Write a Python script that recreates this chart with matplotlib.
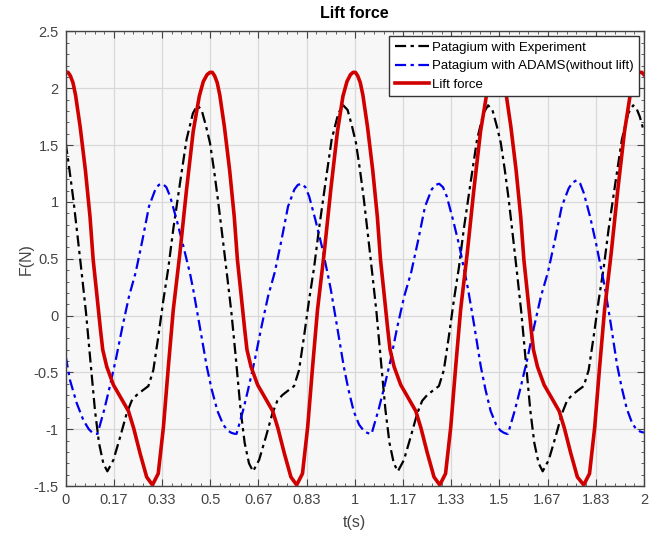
import numpy as np
import matplotlib
matplotlib.use("Agg")
import matplotlib.pyplot as plt
from matplotlib.ticker import MultipleLocator

plt.rcParams["font.family"] = ["Liberation Sans", "DejaVu Sans"]

# Patagium with Experiment (black dash-dot)
exp_t = [0.0, 0.013, 0.026, 0.04, 0.055, 0.07, 0.084, 0.101, 0.115, 0.13, 0.144, 0.165, 0.188, 0.211,
         0.228, 0.245, 0.265, 0.286, 0.303, 0.32, 0.338, 0.355, 0.372, 0.395, 0.418, 0.44,
         0.455, 0.47, 0.485, 0.499, 0.513, 0.526, 0.541, 0.557, 0.573, 0.588, 0.605, 0.619, 0.634, 0.648,
         0.669, 0.692, 0.715, 0.732, 0.749, 0.769, 0.79, 0.807, 0.824, 0.842, 0.859, 0.876, 0.898, 0.92, 0.943,
         0.96, 0.975, 0.99, 1.004, 1.018, 1.031, 1.045, 1.06, 1.075, 1.089, 1.106, 1.12, 1.135, 1.149,
         1.17, 1.193, 1.216, 1.233, 1.25, 1.27, 1.291, 1.308, 1.325, 1.343, 1.36, 1.377, 1.40, 1.423, 1.445,
         1.461, 1.476, 1.491, 1.505, 1.519, 1.532, 1.546, 1.561, 1.576, 1.59, 1.607, 1.621, 1.636, 1.65,
         1.671, 1.694, 1.717, 1.734, 1.751, 1.771, 1.792, 1.809, 1.826, 1.844, 1.861, 1.878, 1.901, 1.924, 1.946,
         1.963, 1.975, 1.986, 2.0]
exp_f = [1.52, 1.28, 1.03, 0.72, 0.38, 0.03, -0.36, -0.83, -1.12, -1.30, -1.37, -1.27, -1.07, -0.86,
         -0.75, -0.70, -0.66, -0.62, -0.48, -0.19, 0.14, 0.42, 0.76, 1.16, 1.55, 1.78,
         1.85, 1.81, 1.67, 1.52, 1.28, 1.03, 0.72, 0.38, 0.03, -0.36, -0.83, -1.12, -1.30, -1.37,
         -1.27, -1.07, -0.86, -0.75, -0.70, -0.66, -0.62, -0.48, -0.19, 0.14, 0.42, 0.76, 1.16, 1.55, 1.78,
         1.85, 1.81, 1.67, 1.52, 1.28, 1.03, 0.72, 0.38, 0.03, -0.36, -0.83, -1.12, -1.30, -1.37,
         -1.27, -1.07, -0.86, -0.75, -0.70, -0.66, -0.62, -0.48, -0.19, 0.14, 0.42, 0.76, 1.16, 1.55, 1.78,
         1.85, 1.81, 1.67, 1.52, 1.28, 1.03, 0.72, 0.38, 0.03, -0.36, -0.83, -1.12, -1.30, -1.37,
         -1.27, -1.07, -0.86, -0.75, -0.70, -0.66, -0.62, -0.48, -0.19, 0.14, 0.42, 0.76, 1.16, 1.55, 1.78,
         1.85, 1.82, 1.75, 1.62]

# Patagium with ADAMS (without lift) (blue dash-dot)
adams_t = [0.0, 0.015, 0.038, 0.061, 0.08, 0.092, 0.103, 0.11,
           0.133, 0.15, 0.173, 0.196, 0.219, 0.242, 0.265, 0.288, 0.31, 0.322, 0.335,
           0.348, 0.361, 0.384, 0.407, 0.43, 0.441, 0.464, 0.488, 0.505, 0.525, 0.545, 0.56, 0.572, 0.584, 0.591,
           0.614, 0.631, 0.654, 0.677, 0.70, 0.723, 0.746, 0.769, 0.791, 0.803, 0.816,
           0.829, 0.842, 0.864, 0.886, 0.906, 0.917, 0.939, 0.962, 0.978, 0.996, 1.015, 1.03, 1.042, 1.052, 1.058,
           1.082, 1.10, 1.124, 1.147, 1.171, 1.195, 1.219, 1.243, 1.266, 1.279, 1.292,
           1.305, 1.318, 1.34, 1.362, 1.381, 1.392, 1.414, 1.436, 1.452, 1.47, 1.489, 1.503, 1.515, 1.525, 1.53,
           1.554, 1.572, 1.596, 1.62, 1.644, 1.668, 1.692, 1.716, 1.74, 1.753, 1.767,
           1.78, 1.792, 1.814, 1.835, 1.854, 1.865, 1.886, 1.907, 1.923, 1.941, 1.96, 1.974, 1.987, 2.0]
adams_f = [-0.36, -0.57, -0.77, -0.92, -1.00, -1.03, -1.04, -1.04,
           -0.83, -0.65, -0.39, -0.10, 0.17, 0.38, 0.66, 0.96, 1.11, 1.15, 1.16,
           1.13, 1.05, 0.84, 0.61, 0.37, 0.23, -0.10, -0.45, -0.65, -0.84, -0.96, -1.01, -1.03, -1.04, -1.04,
           -0.83, -0.65, -0.39, -0.10, 0.17, 0.38, 0.66, 0.96, 1.11, 1.15, 1.16,
           1.13, 1.05, 0.84, 0.61, 0.37, 0.23, -0.10, -0.45, -0.65, -0.84, -0.96, -1.01, -1.03, -1.04, -1.04,
           -0.83, -0.65, -0.39, -0.10, 0.17, 0.38, 0.66, 0.96, 1.11, 1.15, 1.16,
           1.13, 1.05, 0.84, 0.61, 0.37, 0.23, -0.10, -0.45, -0.65, -0.84, -0.96, -1.01, -1.03, -1.04, -1.04,
           -0.83, -0.65, -0.39, -0.10, 0.17, 0.38, 0.66, 0.96, 1.12, 1.17, 1.19,
           1.16, 1.08, 0.87, 0.63, 0.39, 0.25, -0.08, -0.43, -0.63, -0.82, -0.95, -1.00, -1.02, -1.03]

# Lift force (red solid)
lift_t = [0.0, 0.008, 0.016, 0.025, 0.034, 0.05, 0.068, 0.084, 0.095, 0.107, 0.12, 0.128, 0.142, 0.165, 0.19, 0.217,
          0.235, 0.257, 0.28, 0.30, 0.32, 0.338, 0.355, 0.372, 0.395, 0.418, 0.441, 0.462, 0.476, 0.489,
          0.499, 0.507, 0.515, 0.524, 0.533, 0.549, 0.567, 0.583, 0.594, 0.606, 0.619, 0.627, 0.641, 0.664, 0.689, 0.716,
          0.734, 0.756, 0.779, 0.799, 0.819, 0.837, 0.854, 0.871, 0.894, 0.917, 0.94, 0.959, 0.973, 0.985,
          0.994, 1.002, 1.01, 1.019, 1.028, 1.044, 1.062, 1.078, 1.089, 1.101, 1.114, 1.122, 1.136, 1.159, 1.184, 1.211,
          1.229, 1.251, 1.274, 1.294, 1.314, 1.332, 1.349, 1.366, 1.389, 1.412, 1.435, 1.455, 1.469, 1.481,
          1.49, 1.498, 1.506, 1.515, 1.524, 1.54, 1.558, 1.574, 1.585, 1.597, 1.61, 1.618, 1.632, 1.655, 1.68, 1.707,
          1.725, 1.747, 1.77, 1.792, 1.812, 1.83, 1.847, 1.864, 1.887, 1.91, 1.933, 1.952, 1.966, 1.977,
          1.985, 1.993, 2.0]
lift_f = [2.14, 2.14, 2.11, 2.05, 1.94, 1.66, 1.28, 0.87, 0.49, 0.20, -0.12, -0.30, -0.45, -0.61, -0.72, -0.84,
          -0.99, -1.21, -1.42, -1.49, -1.39, -0.98, -0.45, 0.05, 0.55, 1.11, 1.62, 1.93, 2.06, 2.12,
          2.14, 2.14, 2.11, 2.05, 1.94, 1.66, 1.28, 0.87, 0.49, 0.20, -0.12, -0.30, -0.45, -0.61, -0.72, -0.84,
          -0.99, -1.21, -1.42, -1.49, -1.39, -0.98, -0.45, 0.05, 0.55, 1.11, 1.62, 1.93, 2.06, 2.12,
          2.14, 2.14, 2.11, 2.05, 1.94, 1.66, 1.28, 0.87, 0.49, 0.20, -0.12, -0.30, -0.45, -0.61, -0.72, -0.84,
          -0.99, -1.21, -1.42, -1.49, -1.39, -0.98, -0.45, 0.05, 0.55, 1.11, 1.62, 1.93, 2.06, 2.12,
          2.14, 2.14, 2.11, 2.05, 1.94, 1.66, 1.28, 0.87, 0.49, 0.20, -0.12, -0.30, -0.45, -0.61, -0.72, -0.84,
          -0.99, -1.21, -1.42, -1.49, -1.39, -0.98, -0.45, 0.05, 0.55, 1.11, 1.62, 1.93, 2.06, 2.12,
          2.14, 2.14, 2.12]

x_ticks = [0, 1/6, 2/6, 3/6, 4/6, 5/6, 1, 7/6, 8/6, 9/6, 10/6, 11/6, 2]
x_labels = ["0", "0.17", "0.33", "0.5", "0.67", "0.83", "1", "1.17", "1.33", "1.5", "1.67", "1.83", "2"]
y_ticks = [-1.5, -1, -0.5, 0, 0.5, 1, 1.5, 2, 2.5]
y_labels = ["-1.5", "-1", "-0.5", "0", "0.5", "1", "1.5", "2", "2.5"]

fig = plt.figure(figsize=(6.54, 5.33), dpi=100)
ax = fig.add_axes([0.1005, 0.088, 0.884, 0.853])
ax.set_facecolor("#f7f7f7")

dashdot = (0, (5, 2, 1.5, 2))
ax.plot(exp_t, exp_f, color="black", lw=1.6, linestyle=dashdot, label="Patagium with Experiment")
ax.plot(adams_t, adams_f, color="#0000ee", lw=1.6, linestyle=dashdot, label="Patagium with ADAMS(without lift)")
ax.plot(lift_t, lift_f, color="#d10000", lw=2.6, label="Lift force")

ax.set_xlim(0, 2)
ax.set_ylim(-1.5, 2.5)
ax.set_xticks(x_ticks)
ax.set_xticklabels(x_labels)
ax.set_yticks(y_ticks)
ax.set_yticklabels(y_labels)
ax.xaxis.set_minor_locator(MultipleLocator(1/30))
ax.yaxis.set_minor_locator(MultipleLocator(0.1))
ax.tick_params(which="both", direction="in", top=True, right=True, colors="#444444", labelsize=10.5)
ax.tick_params(which="major", length=5, pad=5)
ax.tick_params(which="minor", length=2.5)
ax.grid(True, which="major", color="#d8d8d8", lw=0.9)
ax.set_axisbelow(True)
for s in ax.spines.values():
    s.set_color("#444444")
    s.set_linewidth(1.0)

ax.set_title("Lift force", fontsize=11.5, fontweight="bold", pad=10)
ax.set_xlabel("t(s)", fontsize=11.5, color="#444444", labelpad=6)
ax.set_ylabel("F(N)", fontsize=11.5, color="#444444", labelpad=0)

leg = ax.legend(loc="upper right", fontsize=9.5, handlelength=2.6, handletextpad=0.25,
                borderpad=0.4, labelspacing=0.48, borderaxespad=0.35, fancybox=False, framealpha=1)
leg.get_frame().set_edgecolor("#333333")
leg.get_frame().set_linewidth(1.0)

fig.savefig("out.png", dpi=100)
